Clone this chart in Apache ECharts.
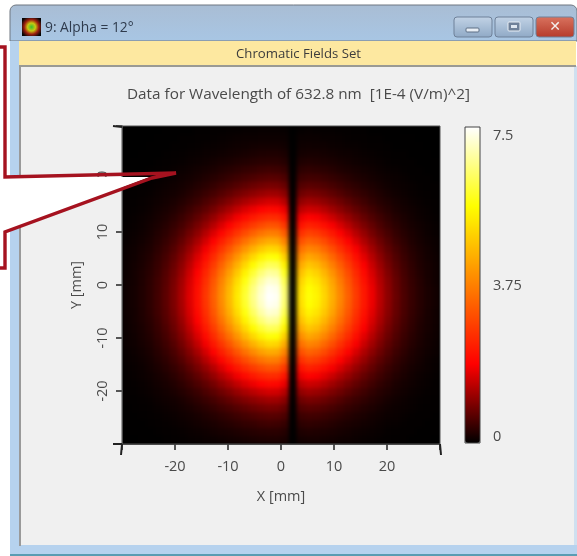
<!DOCTYPE html>
<html><head><meta charset="utf-8">
<style>
html,body{margin:0;padding:0;background:#fff}
#c{position:absolute;left:0;top:0;width:577px;height:556px;z-index:2}
#clip{position:absolute;left:122px;top:126px;width:318px;height:318px;overflow:hidden;background:#000;z-index:1}
#heat{width:318px;height:318px;filter:blur(2px)}
</style>
<script src="https://cdn.jsdelivr.net/npm/echarts@6/dist/echarts.min.js"></script>
</head><body><div id="clip"><div id="heat"></div></div><div id="c"></div>
<script>
const windowTitle = '9: Alpha = 12°';
const bannerTitle = 'Chromatic Fields Set';
const chartTitle = 'Data for Wavelength of 632.8 nm  [1E-4 (V/m)^2]';
const xName = 'X [mm]';
const yName = 'Y [mm]';
const colorbarLabels = ['7.5', '3.75', '0'];
const colorStops = ['#000000', '#ff0000', '#ff8000', '#ffff00', '#ffffff'];
const valueMin = 0, valueMax = 7.5;

const r0=[.10,.15,.23,.33,.48,.67,.92,1.24,1.64,2.10,2.65,3.25,3.93,4.61,5.32,6.00,6.63,7.16,7.49,7.42,6.48,0,5.18,5.68,5.48,5.02,4.45,3.85,3.28,2.72,2.21,1.76,1.37,1.04,.77,.56,.40,.28,.19,.13];
const r1=[.10,.15,.23,.33,.47,.66,.91,1.23,1.62,2.08,2.62,3.21,3.89,4.56,5.26,5.93,6.56,7.08,7.41,7.34,6.41,0,5.12,5.62,5.42,4.96,4.40,3.81,3.24,2.69,2.19,1.74,1.35,1.03,.76,.55,.40,.28,.19,.13];
const r2=[.10,.14,.22,.32,.46,.64,.88,1.19,1.57,2.01,2.54,3.11,3.76,4.41,5.09,5.74,6.34,6.85,7.17,7.10,6.20,0,4.96,5.44,5.24,4.80,4.26,3.68,3.14,2.60,2.11,1.68,1.31,1.00,.74,.54,.38,.27,.18,.12];
const r3=[.09,.14,.21,.30,.43,.61,.83,1.12,1.49,1.90,2.40,2.94,3.56,4.18,4.82,5.44,6.01,6.49,6.79,6.72,5.87,0,4.69,5.15,4.96,4.55,4.03,3.49,2.97,2.46,2.00,1.59,1.24,.94,.70,.51,.36,.25,.17,.12];
const r4=[.08,.13,.19,.28,.40,.56,.77,1.04,1.38,1.76,2.22,2.73,3.30,3.87,4.46,5.03,5.56,6.01,6.28,6.23,5.44,0,4.35,4.77,4.60,4.21,3.73,3.23,2.75,2.28,1.85,1.48,1.15,.87,.65,.47,.34,.23,.16,.11];
const r5=[.08,.11,.18,.25,.37,.51,.70,.94,1.25,1.60,2.02,2.47,2.99,3.51,4.05,4.57,5.05,5.45,5.70,5.65,4.93,0,3.94,4.32,4.17,3.82,3.39,2.93,2.50,2.07,1.68,1.34,1.04,.79,.59,.43,.30,.21,.14,.10];
const r6=[.07,.10,.16,.22,.32,.45,.62,.84,1.11,1.42,1.79,2.19,2.65,3.11,3.59,4.05,4.48,4.83,5.06,5.01,4.37,0,3.50,3.83,3.70,3.39,3.00,2.60,2.21,1.84,1.49,1.19,.92,.70,.52,.38,.27,.19,.13,.09];
const r7=[.06,.09,.13,.19,.28,.39,.54,.73,.96,1.23,1.55,1.90,2.30,2.70,3.11,3.51,3.88,4.19,4.38,4.34,3.79,0,3.03,3.32,3.21,2.94,2.60,2.25,1.92,1.59,1.29,1.03,.80,.61,.45,.33,.23,.16,.11,.08];
const r8=[.05,.07,.11,.16,.24,.33,.46,.62,.82,1.04,1.32,1.62,1.95,2.29,2.64,2.98,3.30,3.56,3.72,3.69,3.22,0,2.57,2.82,2.72,2.49,2.21,1.91,1.63,1.35,1.10,.87,.68,.52,.38,.28,.20,.14,.09,.06];
const r9=[.04,.06,.09,.14,.20,.28,.38,.51,.68,.87,1.09,1.34,1.62,1.90,2.19,2.47,2.73,2.95,3.09,3.06,2.67,0,2.13,2.34,2.26,2.07,1.83,1.59,1.35,1.12,.91,.73,.56,.43,.32,.23,.16,.12,.08,.05];
const r10=[.03,.05,.08,.11,.16,.22,.31,.42,.55,.70,.89,1.09,1.32,1.54,1.78,2.01,2.22,2.40,2.51,2.49,2.17,0,1.74,1.90,1.84,1.68,1.49,1.29,1.10,.91,.74,.59,.46,.35,.26,.19,.13,.09,.06,.04];
const r11=[.03,.04,.06,.09,.13,.18,.24,.33,.44,.56,.70,.86,1.05,1.23,1.42,1.60,1.76,1.90,1.99,1.97,1.72,0,1.38,1.51,1.46,1.34,1.18,1.02,.87,.72,.59,.47,.36,.28,.20,.15,.11,.07,.05,.03];
const r12=[.02,.03,.05,.07,.10,.14,.19,.26,.34,.43,.55,.67,.81,.95,1.10,1.24,1.37,1.48,1.55,1.54,1.34,0,1.07,1.18,1.13,1.04,.92,.80,.68,.56,.46,.36,.28,.22,.16,.12,.08,.06,.04,.03];
const r13=[.02,.02,.04,.05,.08,.11,.14,.19,.26,.33,.42,.51,.62,.72,.84,.94,1.04,1.12,1.18,1.16,1.02,0,.81,.89,.86,.79,.70,.60,.51,.43,.35,.28,.22,.16,.12,.09,.06,.04,.03,.02];
const r14=[.01,.02,.03,.04,.06,.08,.11,.15,.19,.25,.31,.38,.46,.54,.62,.70,.78,.84,.88,.87,.76,0,.61,.66,.64,.59,.52,.45,.38,.32,.26,.21,.16,.12,.09,.07,.05,.03,.02,.02];
const r15=[.01,.01,.02,.03,.04,.06,.08,.11,.14,.18,.23,.28,.33,.39,.45,.51,.56,.61,.64,.63,.55,0,.44,.48,.47,.43,.38,.33,.28,.23,.19,.15,.12,.09,.07,.05,.03,.02,.02,.01];
const r16=[.01,.01,.01,.02,.03,.04,.06,.08,.10,.13,.16,.20,.24,.28,.32,.37,.40,.44,.46,.45,.40,0,.32,.35,.33,.31,.27,.23,.20,.17,.13,.11,.08,.06,.05,.03,.02,.02,.01,.01];
const r17=[0,.01,.01,.01,.02,.03,.04,.05,.07,.09,.11,.14,.17,.19,.22,.25,.28,.30,.31,.31,.27,0,.22,.24,.23,.21,.19,.16,.14,.11,.09,.07,.06,.04,.03,.02,.02,.01,.01,.01];
const r18=[0,0,.01,.01,.01,.02,.03,.04,.05,.06,.08,.09,.11,.13,.15,.17,.19,.21,.22,.22,.19,0,.15,.16,.16,.15,.13,.11,.10,.08,.06,.05,.04,.03,.02,.02,.01,.01,.01,0];
const r19=[0,0,0,.01,.01,.01,.02,.02,.03,.04,.05,.06,.07,.09,.10,.11,.13,.14,.14,.14,.12,0,.10,.11,.10,.10,.08,.07,.06,.05,.04,.03,.03,.02,.01,.01,.01,.01,0,0];
const r20=[0,0,0,0,.01,.01,.01,.02,.02,.03,.03,.04,.05,.06,.07,.08,.08,.09,.09,.09,.08,0,.07,.07,.07,.06,.06,.05,.04,.03,.03,.02,.02,.01,.01,.01,.01,0,0,0];
const r21=[0,0,0,0,0,.01,.01,.01,.01,.02,.02,.03,.03,.04,.04,.05,.05,.06,.06,.06,.05,0,.04,.05,.04,.04,.04,.03,.03,.02,.02,.01,.01,.01,.01,0,0,0,0,0];
const rowsTopToBottom=[r21,r20,r19,r18,r17,r16,r15,r14,r13,r12,r11,r10,r9,r8,r7,r6,r5,r4,r3,r2,r1,r0,r1,r2,r3,r4,r5,r6,r7,r8,r9,r10,r11,r12,r13,r14,r15,r16,r17,r18];

const cols = r0.map((_, i) => String(i));
const rows = rowsTopToBottom.map((_, i) => String(i));
const cells = [];
rowsTopToBottom.forEach((row, y) => row.forEach((v, x) => cells.push([x, y, v])));

const txt = '#4a4a4a';
const font = '"Open Sans", "Noto Sans", sans-serif';
const tickFmt = v => Math.abs(v) === 30 ? '' : String(v);
const red = '#a5121f';
const grad = (a, b, h) => ({type:'linear',x:0,y:0,x2:h?1:0,y2:h?0:1,colorStops:[{offset:0,color:a},{offset:1,color:b}]});
const button = (x, w, a, b) => ({type:'rect',z:-5,shape:{x,y:17,width:w,height:20,r:3},style:{fill:grad(a,b),stroke:'#6f8199',lineWidth:1}});
const block = (x, y, width, height, fill) => ({type:'rect',z:-8,shape:{x,y,width,height},style:{fill}});

const heat = echarts.init(document.getElementById('heat'), null, {renderer:'canvas'});
heat.setOption({
  animation:false,
  grid:{left:0,top:0,right:0,bottom:0},
  xAxis:{type:'category',data:cols,show:false},
  yAxis:{type:'category',data:rows,show:false,inverse:true},
  visualMap:{type:'continuous',show:false,seriesIndex:0,min:valueMin,max:valueMax,inRange:{color:colorStops}},
  series:[{type:'heatmap',data:cells,progressive:0,emphasis:{disabled:true},itemStyle:{borderWidth:0}}]
});

const chart = echarts.init(document.getElementById('c'), null, {renderer:'canvas'});
chart.setOption({
  animation:false,
  backgroundColor:'transparent',
  textStyle:{fontFamily:font},
  grid:{left:122,top:126,width:318,height:318,containLabel:false},
  xAxis:{type:'value',position:'bottom',min:-30,max:30,interval:10,
     name:xName,nameLocation:'middle',nameGap:45,nameTextStyle:{color:txt,fontSize:14.5,fontFamily:font},
     splitLine:{show:false},axisLine:{show:true,onZero:false,lineStyle:{color:'#444',width:1}},
     axisTick:{show:true,length:6,lineStyle:{color:'#222',width:1.5}},
     axisLabel:{color:txt,fontSize:14.5,margin:15,formatter:tickFmt,fontFamily:font}},
  yAxis:{type:'value',position:'left',min:-30,max:30,interval:10,
     name:yName,nameLocation:'middle',nameGap:38,nameTextStyle:{color:txt,fontSize:14.5,fontFamily:font},
     splitLine:{show:false},axisLine:{show:true,onZero:false,lineStyle:{color:'#444',width:1}},
     axisTick:{show:true,length:6,lineStyle:{color:'#222',width:1.5}},
     axisLabel:{color:txt,fontSize:14.5,margin:12,rotate:90,formatter:tickFmt,fontFamily:font}},
  visualMap:{type:'continuous',show:true,min:valueMin,max:valueMax,calculable:false,hoverLink:false,
    left:465,top:127,itemWidth:15,itemHeight:316,padding:0,text:['',''],inRange:{color:colorStops}},
  series:[],
  graphic:[
    {type:'rect',z:-9,shape:{x:10,y:5,width:567,height:36,r:[6,6,0,0]},style:{fill:grad('#a9bdd4','#a8c6e4'),stroke:'#6f7780',lineWidth:1}},
    block(10,41,9,515,'#b6d2ee'), block(574,66,3,490,'#cfe0f0'), block(10,545,567,11,'#b6d2ee'),
    block(19,41,557,25,'#fde8a0'), block(19,65,557,2,'#9a9a94'), block(19,67,2,479,'#9a9a9a'),
    block(21,67,553,59,'#f0f0f0'), block(21,444,553,101,'#f0f0f0'), block(21,126,101,318,'#f0f0f0'), block(440,126,134,318,'#f0f0f0'),
    block(10,554,567,2,'#5a9cb2'),
    {type:'rect',z:-5,shape:{x:22,y:18,width:19,height:18},style:{fill:{type:'radial',x:.5,y:.5,r:.62,colorStops:[{offset:0,color:'#38c030'},{offset:.35,color:'#c8c810'},{offset:.65,color:'#a02010'},{offset:1,color:'#050505'}]}}},
    button(454,38,'#c2d3e6','#8fa9c6'), button(495,38,'#c2d3e6','#8fa9c6'), button(536,38,'#d9735f','#b53a2a'),
    {type:'rect',z:-4,shape:{x:466,y:28,width:13,height:4,r:1},style:{fill:'#e8eef5',stroke:'#5d6f85',lineWidth:1}},
    {type:'rect',z:-4,shape:{x:508,y:22,width:12,height:9,r:1},style:{fill:'#6f8199',stroke:'#e8eef5',lineWidth:1}},
    {type:'rect',z:-4,shape:{x:511,y:25,width:6,height:3},style:{fill:'#dfe7f0'}},
    {type:'text',z:-4,style:{x:555,y:27,text:'✕',fill:'#f4f0ee',font:'bold 14px "DejaVu Sans"',align:'center',verticalAlign:'middle'}},
    {type:'text',z:-4,style:{x:45,y:28,text:windowTitle,fill:'#2f3b4d',font:'13.8px '+font,align:'left',verticalAlign:'middle'}},
    {type:'text',z:-4,style:{x:298.5,y:54,text:bannerTitle,fill:'#3c3c3c',font:'13.2px '+font,align:'center',verticalAlign:'middle'}},
    {type:'text',z:-4,style:{x:298.5,y:95,text:chartTitle,fill:txt,font:'15.3px '+font,align:'center',verticalAlign:'middle'}},
    {type:'text',z:5,style:{x:493,y:136,text:colorbarLabels[0],fill:txt,font:'14.5px '+font,align:'left',verticalAlign:'middle'}},
    {type:'text',z:5,style:{x:493,y:286,text:colorbarLabels[1],fill:txt,font:'14.5px '+font,align:'left',verticalAlign:'middle'}},
    {type:'text',z:5,style:{x:493,y:437,text:colorbarLabels[2],fill:txt,font:'14.5px '+font,align:'left',verticalAlign:'middle'}},
    {type:'rect',z:5,shape:{x:465,y:127,width:15,height:316},style:{fill:'none',stroke:'#444',lineWidth:1}},
    {type:'rect',z:5,shape:{x:122,y:126,width:318,height:318},style:{fill:'none',stroke:'#555',lineWidth:1}},
    {type:'polyline',z:5,shape:{points:[[113,126],[122,127]]},style:{stroke:'#222',lineWidth:2,fill:'none'}},
    {type:'polyline',z:5,shape:{points:[[113,444],[122,444]]},style:{stroke:'#222',lineWidth:2,fill:'none'}},
    {type:'polyline',z:5,shape:{points:[[122,444],[121,455]]},style:{stroke:'#222',lineWidth:2,fill:'none'}},
    {type:'polyline',z:5,shape:{points:[[440,444],[441,455]]},style:{stroke:'#222',lineWidth:2,fill:'none'}},
    {type:'polygon',z:20,shape:{points:[[0,177],[150,177],[5,232],[0,234]]},style:{fill:'#ffffff'}},
    {type:'polyline',z:21,shape:{points:[[0,47],[5,47],[5,177],[176,173],[152,178],[5,232],[5,268],[0,268]]},style:{stroke:red,lineWidth:3.4,fill:'none',lineJoin:'miter'}}
  ]
});
</script></body></html>
